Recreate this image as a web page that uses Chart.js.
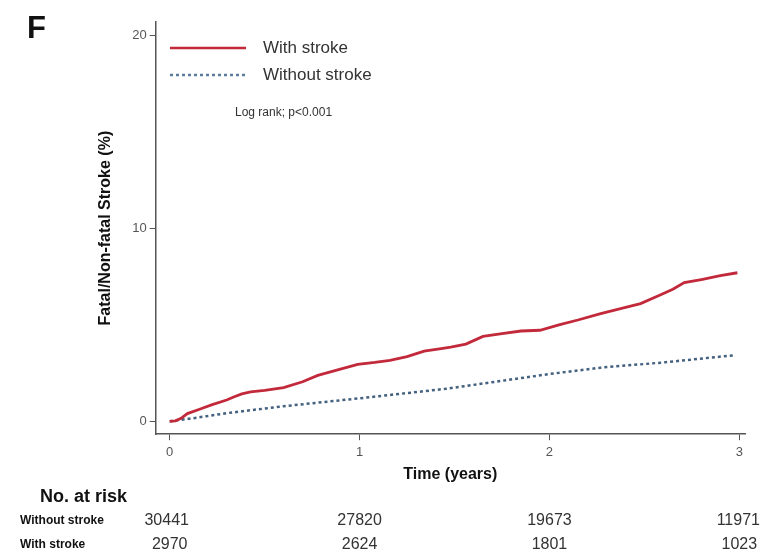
<!DOCTYPE html>
<html>
<head>
<meta charset="utf-8">
<script src="https://cdn.jsdelivr.net/npm/chart.js@4.4.1/dist/chart.umd.min.js"></script>
<style>
html,body{margin:0;padding:0;background:#fff;}
#wrap{position:relative;width:768px;height:555px;}
</style>
</head>
<body>
<div id="wrap"><canvas id="c" width="768" height="555"></canvas></div>
<script>
// ---- data ----
const withStrokeT = [0,0.03,0.06,0.093,0.15,0.22,0.30,0.337,0.38,0.426,0.5,0.60,0.70,0.78,0.88,0.99,1.08,1.16,1.25,1.34,1.43,1.48,1.56,1.65,1.75,1.85,1.95,2.05,2.15,2.27,2.38,2.48,2.58,2.65,2.71,2.8,2.9,2.99];
const withStrokeV = [0,0.02,0.15,0.40,0.6,0.85,1.1,1.26,1.42,1.52,1.6,1.75,2.05,2.38,2.65,2.95,3.05,3.16,3.35,3.64,3.77,3.85,4.0,4.40,4.55,4.68,4.72,5.0,5.25,5.58,5.85,6.1,6.53,6.85,7.19,7.35,7.55,7.70];
const withoutStrokeT = [0,0.11,0.3,0.6,0.99,1.46,2.0,2.27,2.6,2.97];
const withoutStrokeV = [0,0.14,0.42,0.78,1.18,1.69,2.45,2.78,3.05,3.42];
const xTicks = [0,1,2,3];
const yTicks = [0,10,20];
const riskTimes = [0,1,2,3];
const riskWithout = [30441,27820,19673,11971];
const riskWith = [2970,2624,1801,1023];
const seriesNames = ['With stroke','Without stroke'];

const FONT = '"Liberation Sans", Arial, Helvetica, sans-serif';
const RED = '#c22a3c';
const BLUE = '#44617f';

const toPts = (ts, vs) => ts.map((t,i)=>({x:t,y:vs[i]}));

const overlay = {
  id:'overlay',
  afterDraw(chart){
    const ctx = chart.ctx;
    const xs = chart.scales.x;
    ctx.save();
    ctx.fillStyle = '#111';
    ctx.font = 'bold 31px ' + FONT;
    ctx.textBaseline = 'middle';
    ctx.textAlign = 'left';
    ctx.fillText('F', 27, 29);
    // legend
    ctx.lineWidth = 2.5;
    ctx.strokeStyle = RED;
    ctx.beginPath(); ctx.moveTo(170,48); ctx.lineTo(246,48); ctx.stroke();
    ctx.strokeStyle = '#5b7c9c';
    ctx.setLineDash([3,3]);
    ctx.beginPath(); ctx.moveTo(170,75); ctx.lineTo(246,75); ctx.stroke();
    ctx.setLineDash([]);
    ctx.fillStyle = '#333';
    ctx.font = '17px ' + FONT;
    ctx.fillText(seriesNames[0], 263, 48);
    ctx.fillText(seriesNames[1], 263, 75);
    ctx.font = '12px ' + FONT;
    ctx.fillText('Log rank; p<0.001', 235, 113);
    // risk table
    ctx.fillStyle = '#111';
    ctx.font = 'bold 18px ' + FONT;
    ctx.fillText('No. at risk', 40, 497);
    ctx.font = 'bold 12px ' + FONT;
    ctx.fillText('Without stroke', 20, 521);
    ctx.fillText('With stroke', 20, 545);
    ctx.fillStyle = '#333';
    ctx.font = '16px ' + FONT;
    ctx.textAlign = 'center';
    riskTimes.forEach((t,i)=>{
      const px = xs.getPixelForValue(t);
      const off = (i===0)? -3 : (i===3? -1 : 0);
      ctx.fillText(String(riskWithout[i]), px+off, 521);
      ctx.fillText(String(riskWith[i]), px, 545);
    });
    ctx.restore();
  }
};

new Chart(document.getElementById('c'), {
  type:'scatter',
  data:{
    datasets:[
      {label:seriesNames[0], data:toPts(withStrokeT, withStrokeV), showLine:true, borderColor:RED, borderWidth:2.8, pointRadius:0, fill:false, tension:0},
      {label:seriesNames[1], data:toPts(withoutStrokeT, withoutStrokeV), showLine:true, borderColor:BLUE, borderWidth:2.5, borderDash:[3,3], pointRadius:0, fill:false, tension:0}
    ]
  },
  plugins:[overlay],
  options:{
    responsive:false,
    animation:false,
    events:[],
    layout:{padding:{left:96,right:23,top:22,bottom:71}},
    plugins:{legend:{display:false}, tooltip:{enabled:false}},
    scales:{
      x:{
        type:'linear', min:-0.074, max:3.03,
        afterBuildTicks:(s)=>{s.ticks = xTicks.map(v=>({value:v}));},
        grid:{display:true, drawOnChartArea:false, drawTicks:true, tickLength:6, color:'#555', lineWidth:1},
        border:{display:true, color:'#555', width:1.5},
        ticks:{color:'#555', font:{family:FONT, size:13}, padding:4, maxRotation:0},
        title:{display:true, text:'Time (years)', color:'#111', font:{family:FONT, size:16, weight:'bold'}, padding:{top:1,bottom:0}}
      },
      y:{
        type:'linear', min:-0.67, max:20.7,
        afterBuildTicks:(s)=>{s.ticks = yTicks.map(v=>({value:v}));},
        grid:{display:true, drawOnChartArea:false, drawTicks:true, tickLength:6, color:'#555', lineWidth:1},
        border:{display:true, color:'#555', width:1.5},
        ticks:{color:'#555', font:{family:FONT, size:13}, padding:3},
        title:{display:true, text:'Fatal/Non-fatal Stroke (%)', color:'#111', font:{family:FONT, size:16, weight:'bold'}, padding:{top:0,bottom:14}}
      }
    }
  }
});
</script>
</body>
</html>
